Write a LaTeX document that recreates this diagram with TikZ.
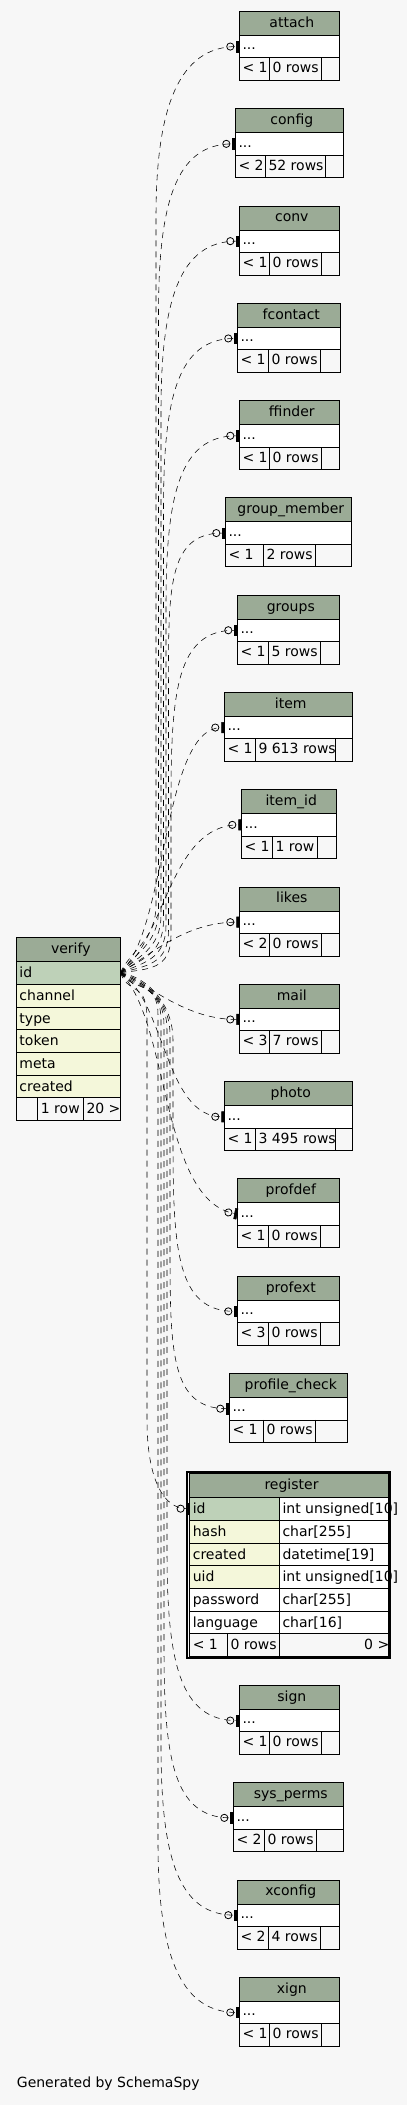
\documentclass[tikz,border=0pt]{standalone}
\usepackage{fontspec}
\setmainfont{DejaVu Sans}
\usetikzlibrary{arrows.meta}
\definecolor{bgc}{HTML}{F7F7F7}
\definecolor{hdr}{HTML}{9BAB96}
\definecolor{pk}{HTML}{BED1B8}
\definecolor{idx}{HTML}{F4F7DA}
\tikzset{
 txt/.style={font=\fontsize{14}{16}\selectfont, inner sep=0pt, anchor=base west},
 ctxt/.style={txt, anchor=base},
 rtxt/.style={txt, anchor=base east},
 tline/.style={draw=black, line width=0.8pt},
 rowbox/.style={draw=black, line width=0.8pt, fill=white, anchor=north west, inner sep=0pt, outer sep=0pt},
 rel/.style={draw=black, line width=0.55pt, dash pattern=on 6pt off 5pt,
   -{Circle[open,length=8pt,width=8pt,line width=0.8pt,sep=2pt]Rectangle[length=3pt,width=11pt]}},
}
\newcommand\tbl[9]{%
 \pgfmathsetmacro\tA{#4+24}%
 \pgfmathsetmacro\tB{#4+46.5}%
 \pgfmathsetmacro\tC{#4+69}%
 \pgfmathsetmacro\tM{(#2+#3)/2+2.5}%
 \pgfmathsetmacro\tW{#3-#2}%
 \fill[hdr] (#2,#4) rectangle (#3,\tA);
 \fill[bgc] (#2,\tB) rectangle (#3,\tC);
 \node[rowbox, minimum width=\tW pt, minimum height=22.5pt] (#1) at (#2,\tA) {};
 \node[ctxt] (#1-h) at (\tM,{#4+16}) {#5};
 \node[txt] (#1-d) at ({#2+3},{#4+38.5}) {...};
 \node[txt] (#1-f1) at ({#2+3},{#4+61.5}) {#8};
 \node[txt] (#1-f2) at ({#6+3},{#4+61.5}) {#9};
 \draw[tline] (#2,#4) rectangle (#3,\tC) (#6,\tB) -- (#6,\tC) (#7,\tB) -- (#7,\tC);
}
% #1 target row, #2 vertical x, #3 y where vertical run starts, #4 target y, #5 #6 first control offset
\newcommand\uedge[6]{\draw[rel] (vid.east) .. controls +(#5,#6) and +(0,35) .. (#2,#3) -- (#2,{#4+170}) .. controls +(0,-110) and +(-60,0) .. (#1.west);}
\newcommand\dedge[6]{\draw[rel] (vid.east) .. controls +(#5,#6) and +(0,-35) .. (#2,#3) -- (#2,{#4-170}) .. controls +(0,110) and +(-60,0) .. (#1.west);}
\begin{document}
\begin{tikzpicture}[x=1pt,y=-1pt]
\fill[bgc] (0,0) rectangle (407,2105);
\useasboundingbox (0,0) rectangle (407,2105);

% tables
\tbl{attach}{239.3}{339.3}{11.3}{attach}{269.3}{321.3}{< 1}{0 rows}
\tbl{config}{235.3}{343.3}{108.6}{config}{265.3}{325.3}{< 2}{52 rows}
\tbl{conv}{239.3}{339.3}{205.9}{conv}{269.3}{321.3}{< 1}{0 rows}
\tbl{fcontact}{237.3}{340.3}{303.2}{fcontact}{268.3}{320.3}{< 1}{0 rows}
\tbl{ffinder}{239.3}{339.3}{400.5}{ffinder}{269.3}{321.3}{< 1}{0 rows}
\tbl{gmember}{225.3}{351.3}{497.8}{group\_member}{263.3}{315.3}{< 1}{2 rows}
\tbl{groups}{237.3}{339.3}{595.0}{groups}{268.3}{320.3}{< 1}{5 rows}
\tbl{item}{224.3}{352.3}{692.3}{item}{255.3}{335.3}{< 1}{9 613 rows}
\tbl{itemid}{241.3}{336.3}{789.6}{item\_id}{272.3}{317.3}{< 1}{1 row}
\tbl{likes}{239.3}{339.3}{886.9}{likes}{269.3}{321.3}{< 2}{0 rows}
\tbl{mail}{239.3}{339.3}{984.2}{mail}{269.3}{321.3}{< 3}{7 rows}
\tbl{photo}{224.3}{352.3}{1081.5}{photo}{255.3}{335.3}{< 1}{3 495 rows}
\tbl{profdef}{237.3}{339.3}{1178.8}{profdef}{268.3}{320.3}{< 1}{0 rows}
\tbl{profext}{237.3}{339.3}{1276.1}{profext}{268.3}{320.3}{< 3}{0 rows}
\tbl{pcheck}{229.3}{347.3}{1373.4}{profile\_check}{263.3}{315.3}{< 1}{0 rows}
\tbl{sign}{239.3}{339.3}{1685.3}{sign}{269.3}{321.3}{< 1}{0 rows}
\tbl{sysperms}{233.3}{343.3}{1782.6}{sys\_perms}{264.3}{316.3}{< 2}{0 rows}
\tbl{xconfig}{237.3}{339.3}{1879.9}{xconfig}{268.3}{320.3}{< 2}{4 rows}
\tbl{xign}{239.3}{339.3}{1977.2}{xign}{269.3}{321.3}{< 1}{0 rows}

% verify
\fill[hdr] (16.3,937.3) rectangle (120.3,961.3);
\fill[idx] (16.3,984.3) rectangle (120.3,1097.3);
\node[rowbox, fill=pk, minimum width=104pt, minimum height=23pt] (vid) at (16.3,961.3) {};
\node[ctxt] (v-h) at (70.8,953.3) {verify};
\node[txt] (v-1) at (19.3,977.3) {id};
\node[txt] (v-2) at (19.3,1000.3) {channel};
\node[txt] (v-3) at (19.3,1023.3) {type};
\node[txt] (v-4) at (19.3,1045.3) {token};
\node[txt] (v-5) at (19.3,1068.3) {meta};
\node[txt] (v-6) at (19.3,1091.3) {created};
\node[txt] (v-f1) at (40.7,1113.3) {1 row};
\node[txt] (v-f2) at (86.3,1113.3) {20 >};
\draw[tline] (16.3,937.3) rectangle (120.3,1120.3)
  (16.3,1007.3) -- (120.3,1007.3) (16.3,1029.3) -- (120.3,1029.3)
  (16.3,1052.3) -- (120.3,1052.3) (16.3,1075.3) -- (120.3,1075.3)
  (16.3,1097.3) -- (120.3,1097.3)
  (37.7,1097.3) -- (37.7,1120.3) (83.3,1097.3) -- (83.3,1120.3);

% register
\fill[hdr] (189.6,1473.6) rectangle (388.3,1497.3);
\fill[white] (279.3,1497.3) rectangle (388.3,1633.3);
\fill[idx] (189.6,1520) rectangle (279.3,1588);
\fill[white] (189.6,1588) rectangle (279.3,1633.3);
\node[rowbox, fill=pk, minimum width=89.7pt, minimum height=22.7pt] (reg) at (189.6,1497.3) {};
\node[ctxt] (r-h) at (291.5,1489.3) {register};
\node[txt] (r-1a) at (192.6,1513.3) {id};
\node[txt] (r-1b) at (282.3,1513.3) {int unsigned[10]};
\node[txt] (r-2a) at (192.6,1536) {hash};
\node[txt] (r-2b) at (282.3,1536) {char[255]};
\node[txt] (r-3a) at (192.6,1559.3) {created};
\node[txt] (r-3b) at (282.3,1559.3) {datetime[19]};
\node[txt] (r-4a) at (192.6,1581.3) {uid};
\node[txt] (r-4b) at (282.3,1581.3) {int unsigned[10]};
\node[txt] (r-5a) at (192.6,1604) {password};
\node[txt] (r-5b) at (282.3,1604) {char[255]};
\node[txt] (r-6a) at (192.6,1627.3) {language};
\node[txt] (r-6b) at (282.3,1627.3) {char[16]};
\node[txt] (r-f1) at (192.6,1649.3) {< 1};
\node[txt] (r-f2) at (230.3,1649.3) {0 rows};
\node[rtxt] (r-f3) at (389.5,1649.3) {0 >};
\draw[tline] (189.6,1473.6) rectangle (388.3,1656.7)
  (189.6,1497.3) -- (388.3,1497.3) (189.6,1520) -- (388.3,1520)
  (189.6,1543.3) -- (388.3,1543.3) (189.6,1565.3) -- (388.3,1565.3)
  (189.6,1588) -- (388.3,1588) (189.6,1611.3) -- (388.3,1611.3)
  (189.6,1633.3) -- (388.3,1633.3)
  (279.3,1497.3) -- (279.3,1656.7) (227.3,1633.3) -- (227.3,1656.7);
\draw[line width=1.8pt] (187.2,1471.8) rectangle (389.6,1657.8);

% footer text
\node[txt] (gen) at (16.7,2087.7) {Generated by SchemaSpy};

% relationships
\uedge{attach}{156}{905}{46.55}{10}{-22}
\uedge{config}{158.5}{910}{143.85}{13}{-19}
\uedge{conv}{161}{915}{241.15}{16}{-16}
\uedge{fcontact}{163.5}{920}{338.45}{19}{-13}
\uedge{ffinder}{166}{925}{435.75}{22}{-10}
\uedge{gmember}{168.5}{930}{533.05}{25}{-7}
\uedge{groups}{171}{935}{630.25}{28}{-4}
\draw[rel] (vid.east) .. controls (168,930) and (162,727.5) .. (item.west);
\draw[rel] (vid.east) .. controls (165,940) and (170,824.8) .. (itemid.west);
\draw[rel] (vid.east) .. controls (150,955) and (185,922.1) .. (likes.west);
\draw[rel] (vid.east) .. controls (150,985) and (185,1019.4) .. (mail.west);
\draw[rel] (vid.east) .. controls (165,1000) and (165,1116.7) .. (photo.west);
\draw[rel] (vid.east) .. controls (170,1020) and (160,1200) .. (profdef.west);
\dedge{profext}{173}{1040}{1311.35}{28}{4}
\dedge{pcheck}{170}{1035}{1408.65}{25}{7}
\draw[rel] (vid.east) .. controls +(10,24) and +(0,-40) .. (147,1020) -- (147,1420) .. controls +(0,55) and +(-28,0) .. (reg.west);
\dedge{sign}{167}{1030}{1720.55}{22}{10}
\dedge{sysperms}{164}{1025}{1817.85}{19}{13}
\dedge{xconfig}{161}{1020}{1915.15}{16}{16}
\dedge{xign}{158}{1015}{2012.45}{13}{19}
\end{tikzpicture}
\end{document}
